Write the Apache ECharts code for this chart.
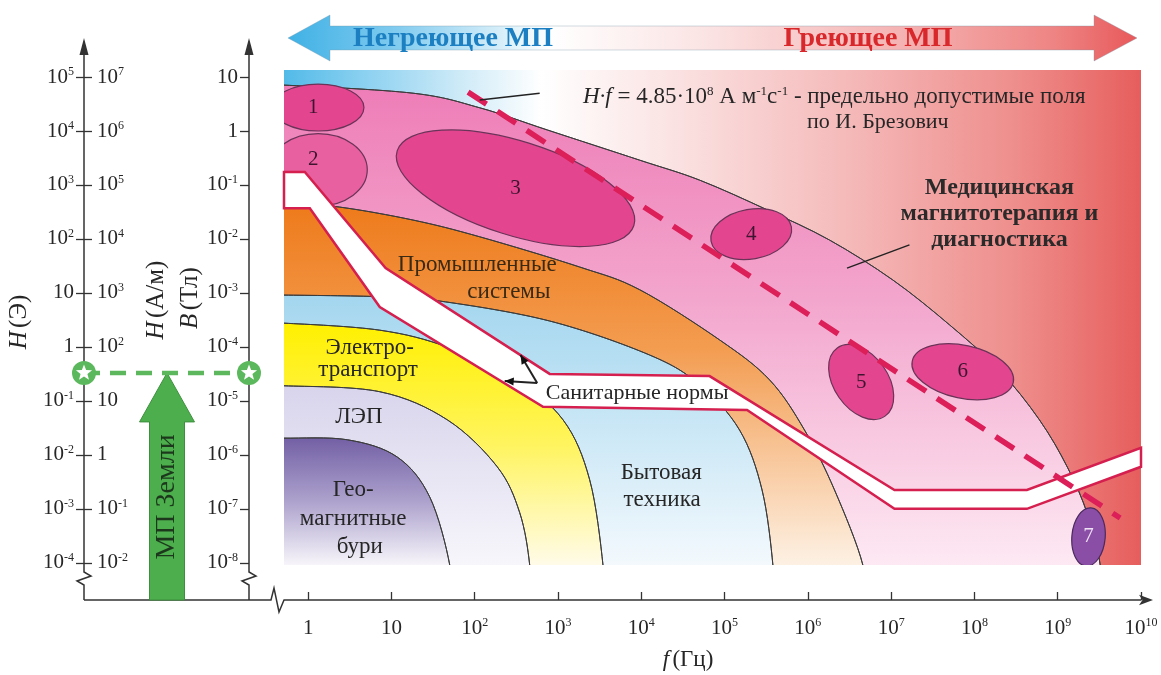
<!DOCTYPE html>
<html><head><meta charset="utf-8">
<script src="https://cdn.jsdelivr.net/npm/echarts@6/dist/echarts.min.js"></script>
<style>html,body{margin:0;padding:0;background:#fff}#c{width:1161px;height:675px}</style>
</head><body><div id="c"></div>
<script>
// ---------------- DATA (log10 f [Hz], log10 B [T]) ----------------
const freqTickExp = [0, 1, 2, 3, 4, 5, 6, 7, 8, 9, 10];
const bTickExp = [-8, -7, -6, -5, -4, -3, -2, -1, 0, 1];
const oeTickExp = [-4, -3, -2, -1, 0, 1, 2, 3, 4, 5];
const amTickExp = [-2, -1, 0, 1, 2, 3, 4, 5, 6, 7];

const medicalBoundary = [[-0.29, 0.85], [1.26, 0.70], [2.06, 0.43], [2.87, 0.02], [3.98, -0.54], [4.70, -0.91], [5.51, -1.46], [6.26, -2.02], [7.02, -2.76], [7.70, -3.59], [8.30, -4.43], [8.78, -5.35], [9.12, -6.24], [9.36, -7.11], [9.51, -8.04]];
const industrialBoundary = [[-0.29, -1.33], [0.38, -1.41], [1.26, -1.65], [2.06, -1.96], [3.26, -2.52], [3.98, -2.94], [4.94, -3.87], [5.54, -4.61], [5.96, -5.54], [6.32, -6.65], [6.66, -8.04]];
const householdBoundary = [[-0.29, -3.04], [0.86, -3.07], [1.58, -3.15], [2.90, -3.52], [4.10, -4.15], [4.70, -4.70], [5.18, -5.54], [5.45, -6.65], [5.58, -8.04]];
const transportBoundary = [[-0.29, -3.56], [0.86, -3.69], [1.67, -4.00], [2.46, -4.56], [3.06, -5.35], [3.38, -6.46], [3.54, -8.04]];
const powerLineBoundary = [[-0.29, -4.72], [0.86, -4.83], [1.67, -5.35], [2.27, -6.22], [2.54, -7.07], [2.66, -8.04]];
const geomagBoundary = [[-0.29, -5.69], [0.47, -5.72], [1.07, -6.04], [1.46, -6.78], [1.70, -8.04]];

const ellipseIds = ['1', '2', '3', '4', '5', '6', '7'];
const ellipseLogF = [0.12, 0.12, 2.49, 5.32, 6.64, 7.86, 9.37];
const ellipseLogB = [0.435, -0.72, -1.06, -1.91, -4.65, -4.46, -7.52];
const ellipseHalfF = [0.55, 0.59, 1.49, 0.49, 0.50, 0.62, 0.20];
const ellipseHalfB = [0.435, 0.67, 0.87, 0.46, 0.50, 0.49, 0.54];
const ellipseTilt = [0, 0, 17.5, -10, 55, 12, 5];

const sanitaryUpper = [[-0.29, -0.76], [-0.04, -0.76], [0.93, -2.54], [2.90, -4.50], [4.82, -4.54], [7.04, -6.65], [8.63, -6.65], [10.0, -5.87]];
const sanitaryLower = [[10.0, -6.22], [8.63, -7.00], [7.04, -7.00], [5.27, -5.17], [2.82, -5.11], [0.86, -3.26], [0.02, -1.43], [-0.29, -1.43]];

const hfLimit = [[1.92, 0.72], [9.75, -7.17]];
const earthFieldT = 3.3e-5;

// ---------------- LAYOUT / STYLE ----------------
const GRID = { left: 284, top: 70, width: 857, height: 495 };
const SERIF = '"Liberation Serif","DejaVu Serif",serif';
const TXT = '#262626';

const bands = [
  { pts: medicalBoundary, stops: [[0, '#ee7db7'], [0.45, '#f3a6cd'], [1, '#fde9f3']] },
  { pts: industrialBoundary, stops: [[0, '#ee7a1a'], [0.4, '#f39c50'], [1, '#fdf1e4']] },
  { pts: householdBoundary, stops: [[0, '#a3d6ef'], [1, '#f3f9fd']] },
  { pts: transportBoundary, stops: [[0, '#fff000'], [0.5, '#fff45e'], [1, '#fffbe8']] },
  { pts: powerLineBoundary, stops: [[0, '#d8d4ec'], [1, '#f7f6fb']] },
  { pts: geomagBoundary, stops: [[0, '#7360a5'], [0.5, '#ada2cd'], [1, '#f7f5fa']] }
];

function grad(x, y, x2, y2, stops, global) {
  return new echarts.graphic.LinearGradient(x, y, x2, y2, stops.map(s => ({ offset: s[0], color: s[1] })), global);
}
function catmull(pts) {
  let d = 'M' + pts[0][0] + ' ' + pts[0][1];
  for (let i = 0; i < pts.length - 1; i++) {
    const p0 = pts[i - 1] || pts[i], p1 = pts[i], p2 = pts[i + 1], p3 = pts[i + 2] || pts[i + 1];
    const c1 = [p1[0] + (p2[0] - p0[0]) / 6, p1[1] + (p2[1] - p0[1]) / 6];
    const c2 = [p2[0] - (p3[0] - p1[0]) / 6, p2[1] - (p3[1] - p1[1]) / 6];
    d += ' C' + c1[0] + ' ' + c1[1] + ' ' + c2[0] + ' ' + c2[1] + ' ' + p2[0] + ' ' + p2[1];
  }
  return d;
}
function expLabel(e) {
  if (e === 0) return '{b|1}';
  if (e === 1) return '{b|10}';
  return '{b|10}{s|' + e + '}';
}
const tickRich = {
  b: { fontFamily: SERIF, fontSize: 21, color: TXT, lineHeight: 22 },
  s: { fontFamily: SERIF, fontSize: 12, color: TXT, lineHeight: 12, verticalAlign: 'top' }
};
function arrowHead(from, to, len, half) {
  const dx = to[0] - from[0], dy = to[1] - from[1], L = Math.hypot(dx, dy);
  const ux = dx / L, uy = dy / L;
  const bx = to[0] - ux * len, by = to[1] - uy * len;
  return [[to[0], to[1]], [bx - uy * half, by + ux * half], [bx + uy * half, by - ux * half]];
}

const chart = echarts.init(document.getElementById('c'));

const yBase = {
  type: 'value', min: -8.04, max: 1.13, position: 'left',
  splitLine: { show: false }, axisLine: { show: false, onZero: false }
};

const option = {
  animation: false,
  grid: GRID,
  xAxis: {
    type: 'value', min: -0.29, max: 10, position: 'bottom', offset: 35,
    splitLine: { show: false },
    axisLine: { show: true, onZero: false, lineStyle: { color: '#333', width: 1.5 }, symbol: ['none', 'arrow'], symbolSize: [8, 14], symbolOffset: [0, 12] },
    axisTick: { show: true, inside: true, length: 8, lineStyle: { color: '#333', width: 1.3 }, customValues: freqTickExp },
    axisLabel: { margin: 17, customValues: freqTickExp, formatter: v => expLabel(Math.round(v)), rich: tickRich }
  },
  yAxis: [
    Object.assign({}, yBase, {
      offset: 35,
      axisTick: { show: true, length: 9, lineStyle: { color: '#333', width: 1.3 }, customValues: bTickExp },
      axisLabel: { margin: 11, customValues: bTickExp, formatter: v => expLabel(Math.round(v)), rich: tickRich }
    }),
    Object.assign({}, yBase, {
      offset: 200,
      axisTick: { show: true, length: 8, lineStyle: { color: '#333', width: 1.3 }, customValues: bTickExp },
      axisLabel: { margin: 10, customValues: bTickExp, formatter: v => expLabel(oeTickExp[bTickExp.indexOf(Math.round(v))]), rich: tickRich }
    }),
    Object.assign({}, yBase, {
      offset: 200,
      axisTick: { show: true, inside: true, length: 8, lineStyle: { color: '#333', width: 1.3 }, customValues: bTickExp },
      axisLabel: { inside: true, margin: 13, customValues: bTickExp, formatter: v => expLabel(amTickExp[bTickExp.indexOf(Math.round(v))]), rich: tickRich }
    })
  ],
  series: [
    { // background
      type: 'custom', clip: true, silent: true, data: [[0, 0]],
      renderItem: (params) => {
        const cs = params.coordSys;
        return { type: 'rect', shape: { x: cs.x, y: cs.y, width: cs.width, height: cs.height },
          style: { fill: grad(0, 0, 1, 0, [[0, '#52bae8'], [0.1, '#8fd2f1'], [0.2, '#cbe9f7'], [0.3, '#ffffff'], [0.45, '#fbe3e3'], [0.65, '#f5bbbb'], [0.85, '#ee8f8d'], [0.95, '#e96f6d'], [1, '#e65e5d']]) } };
      }
    },
    { // frequency bands
      type: 'custom', clip: true, silent: true,
      data: bands.map((b, i) => [b.pts[0][0], b.pts[0][1], i]),
      renderItem: (params, api) => {
        const cs = params.coordSys;
        const b = bands[api.value(2)];
        const px = b.pts.map(p => api.coord(p));
        const ext = 40, bottom = cs.y + cs.height;
        const pts = [[cs.x - ext, px[0][1]]].concat(px, [[px[px.length - 1][0], bottom + ext]]);
        const d = catmull(pts) + ' L' + (cs.x - ext) + ' ' + (bottom + ext) + ' Z';
        return { type: 'path', shape: { pathData: d },
          style: { fill: grad(0, px[0][1], 0, bottom, b.stops, true), stroke: '#3c3c3c', lineWidth: 1 } };
      }
    },
    { // ellipses
      type: 'custom', clip: true, silent: true,
      data: ellipseLogF.map((f, i) => [f, ellipseLogB[i], i]),
      renderItem: (params, api) => {
        const i = api.value(2);
        const c = api.coord([ellipseLogF[i], ellipseLogB[i]]);
        const sz = api.size([1, 1]);
        const purple = i === 6;
        return { type: 'group', children: [
          { type: 'ellipse', x: c[0], y: c[1], rotation: -ellipseTilt[i] * Math.PI / 180,
            shape: { cx: 0, cy: 0, rx: ellipseHalfF[i] * sz[0], ry: ellipseHalfB[i] * sz[1] },
            style: { fill: purple ? '#8a4ea6' : (i === 1 ? '#e8609f' : '#e3468f'), stroke: purple ? '#4b2a5e' : '#6a3358', lineWidth: 1.2 } },
          { type: 'text', x: c[0] - (i < 2 ? 5 : 0), y: c[1] + (i === 1 ? -10 : 0),
            style: { text: ellipseIds[i], font: '21px ' + SERIF, fill: purple ? '#efe2f5' : '#3d1530', align: 'center', verticalAlign: 'middle' } }
        ] };
      }
    },
    { // sanitary norms band
      type: 'custom', clip: false, silent: true,
      data: [[sanitaryUpper[0][0], sanitaryUpper[0][1]]],
      renderItem: (params, api) => {
        const pts = sanitaryUpper.concat(sanitaryLower).map(p => api.coord(p));
        return { type: 'polygon', shape: { points: pts },
          style: { fill: '#ffffff', stroke: '#d51f4e', lineWidth: 2.5, lineJoin: 'miter' } };
      }
    },
    { // H*f limit
      type: 'line', data: hfLimit, symbol: 'none', silent: true, z: 5,
      lineStyle: { color: '#dc1e59', width: 5.5, type: [22, 13], cap: 'butt' }
    },
    { // annotations in data space
      type: 'custom', clip: false, silent: true, z: 6, data: [[0, 0]],
      renderItem: (params, api) => {
        const P = (f, b) => api.coord([f, b]);
        const t = (f, b, text, opt) => {
          const p = P(f, b);
          return { type: 'text', x: p[0], y: p[1], style: Object.assign({ text, font: '23px ' + SERIF, fill: TXT, align: 'center', verticalAlign: 'middle' }, opt || {}) };
        };
        const ln = (a, b, w) => ({ type: 'line', shape: { x1: a[0], y1: a[1], x2: b[0], y2: b[1] }, style: { stroke: '#222', lineWidth: w || 1.5 } });
        const s0 = P(2.75, -4.67), e1 = P(2.55, -4.15), e2 = P(2.36, -4.63);
        const boldMed = { font: 'bold 24px ' + SERIF, fill: '#2a2a2a' };
        return { type: 'group', children: [
          t(2.03, -2.48, 'Промышленные', { fill: '#3a2a14' }),
          t(2.41, -2.98, 'системы', { fill: '#3a2a14' }),
          t(0.74, -4.02, 'Электро-'),
          t(0.72, -4.43, 'транспорт'),
          t(0.61, -5.30, 'ЛЭП'),
          t(0.54, -6.65, 'Гео-'),
          t(0.54, -7.19, 'магнитные'),
          t(0.62, -7.70, 'бури'),
          t(4.24, -6.33, 'Бытовая'),
          t(4.25, -6.83, 'техника'),
          t(3.95, -4.85, 'Санитарные нормы', { font: '22px ' + SERIF }),
          ln(s0, e1, 2), ln(s0, e2, 2),
          { type: 'polygon', shape: { points: arrowHead(s0, e1, 9, 4) }, style: { fill: '#111' } },
          { type: 'polygon', shape: { points: arrowHead(s0, e2, 9, 4) }, style: { fill: '#111' } },
          ln(P(2.06, 0.574), P(2.78, 0.70), 1.5),
          t(3.30, 0.63, '{i|H·f} = 4.85·10{s|8} А м{s|-1}с{s|-1} - предельно допустимые поля', {
            align: 'left', font: '23px ' + SERIF, lineHeight: 24,
            rich: { i: { fontFamily: SERIF, fontSize: 23, fontStyle: 'italic', fill: TXT, lineHeight: 24 },
                    s: { fontFamily: SERIF, fontSize: 13, fill: TXT, lineHeight: 13, verticalAlign: 'top' } } }),
          t(6.84, 0.17, 'по И. Брезович', { font: '22px ' + SERIF }),
          ln(P(6.47, -2.54), P(7.22, -2.11), 1.5),
          t(8.30, -1.06, 'Медицинская', boldMed),
          t(8.30, -1.54, 'магнитотерапия и', boldMed),
          t(8.30, -2.02, 'диагностика', boldMed)
        ] };
      }
    }
  ]
};
chart.setOption(option);

// ---------------- decorations outside the plot ----------------
const oeX = GRID.left - 200, bX = GRID.left - 35, axY = GRID.top + GRID.height + 35;
const earthY = chart.convertToPixel({ yAxisIndex: 0 }, Math.log10(earthFieldT));
const axisStroke = { stroke: '#333', lineWidth: 1.5, fill: null };
function starPts(cx, cy, R, r) {
  const pts = [];
  for (let k = 0; k < 10; k++) { const a = -Math.PI / 2 + k * Math.PI / 5; const rr = k % 2 ? r : R; pts.push([cx + rr * Math.cos(a), cy + rr * Math.sin(a)]); }
  return pts;
}
const g = [];
[oeX, bX].forEach(x => {
  g.push({ type: 'polyline', shape: { points: [[x, 50], [x, 572], [x + 7, 576], [x - 7, 581], [x, 585], [x, axY]] }, style: axisStroke });
  g.push({ type: 'polygon', shape: { points: [[x, 38], [x - 4.5, 55], [x + 4.5, 55]] }, style: { fill: '#333' } });
});
g.push({ type: 'polyline', shape: { points: [[oeX, axY], [271, axY], [274, axY - 12], [279, axY + 12], [GRID.left, axY]] }, style: axisStroke });
// Earth field
const gx = (oeX + bX) / 2 + 0.5;
g.push({ type: 'polygon', shape: { points: [[gx, earthY], [gx + 27.5, earthY + 49], [gx + 17.5, earthY + 49], [gx + 17.5, axY], [gx - 17.5, axY], [gx - 17.5, earthY + 49], [gx - 27.5, earthY + 49]] },
  style: { fill: '#4cae4c', stroke: '#3d8f3d', lineWidth: 1 } });
g.push({ type: 'text', x: gx, y: 497, rotation: Math.PI / 2, style: { text: 'МП Земли', font: '28px ' + SERIF, fill: '#1d371d', align: 'center', verticalAlign: 'middle' } });
g.push({ type: 'line', shape: { x1: oeX, y1: earthY, x2: bX, y2: earthY }, style: { stroke: '#5db85d', lineWidth: 4.5, lineDash: [16, 10] } });
[oeX, bX].forEach(x => {
  g.push({ type: 'circle', shape: { cx: x, cy: earthY, r: 12 }, style: { fill: '#5cb85c' } });
  g.push({ type: 'polygon', shape: { points: starPts(x, earthY, 8.5, 3.6) }, style: { fill: '#ffffff' } });
});
// axis names
const nameRich = { i: { fontFamily: SERIF, fontSize: 25, fontStyle: 'italic', fill: TXT }, n: { fontFamily: SERIF, fontSize: 25, fill: TXT } };
const fRich = { i: { fontFamily: SERIF, fontSize: 23, fontStyle: 'italic', fill: TXT }, n: { fontFamily: SERIF, fontSize: 23, fill: TXT } };
g.push({ type: 'text', x: 19, y: 322, rotation: Math.PI / 2, style: { text: '{i|H} {n|(Э)}', rich: nameRich, align: 'center', verticalAlign: 'middle' } });
g.push({ type: 'text', x: 156, y: 300, rotation: Math.PI / 2, style: { text: '{i|H} {n|(А/м)}', rich: nameRich, align: 'center', verticalAlign: 'middle' } });
g.push({ type: 'text', x: 190, y: 298, rotation: Math.PI / 2, style: { text: '{i|B} {n|(Тл)}', rich: nameRich, align: 'center', verticalAlign: 'middle' } });
g.push({ type: 'text', x: 688, y: 660, style: { text: '{i|f} {n|(Гц)}', rich: fRich, align: 'center', verticalAlign: 'middle' } });
// header double arrow
g.push({ type: 'polygon', shape: { points: [[288, 38], [330, 15], [330, 26], [1094, 26], [1094, 15], [1137, 38], [1094, 61], [1094, 50], [330, 50], [330, 61]] },
  style: { fill: grad(0, 0, 1, 0, [[0, '#3fb1e5'], [0.12, '#7cc9ee'], [0.25, '#d6eef9'], [0.31, '#ffffff'], [0.5, '#fbe2e2'], [0.72, '#f5b3b3'], [0.9, '#ee8584'], [1, '#e8585a']]), stroke: 'rgba(120,150,170,0.35)', lineWidth: 1 } });
g.push({ type: 'text', x: 453, y: 39, style: { text: 'Негреющее МП', font: 'bold 28px ' + SERIF, fill: '#1b7fc1', align: 'center', verticalAlign: 'middle' } });
g.push({ type: 'text', x: 868, y: 39, style: { text: 'Греющее МП', font: 'bold 28px ' + SERIF, fill: '#d9282c', align: 'center', verticalAlign: 'middle' } });

chart.setOption({ graphic: { elements: g } });
</script>
</body></html>
